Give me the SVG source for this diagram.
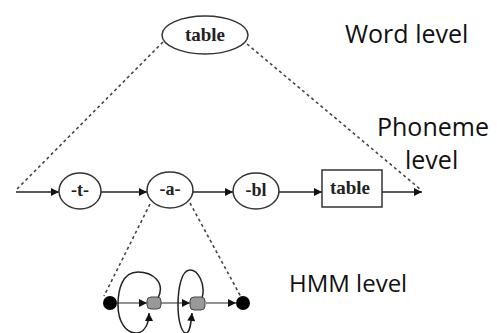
<svg xmlns="http://www.w3.org/2000/svg" width="497" height="333" viewBox="0 0 497 333">
<style>
.lbl{font-family:"Open Sans","Liberation Sans",sans-serif;font-size:25px;fill:#111}
.nt{font-family:"Liberation Serif",serif;font-weight:bold;fill:#222;text-anchor:middle}
.node{fill:#fff;stroke:#333;stroke-width:1.5}
.ln{stroke:#222;stroke-width:1.5;fill:none}
.dash{stroke:#444;stroke-width:1.6;fill:none;stroke-dasharray:3 3}
</style>
<defs>
<marker id="ah" viewBox="0 0 10 10" refX="10" refY="5" markerWidth="9" markerHeight="8" markerUnits="userSpaceOnUse" orient="auto">
<path d="M0,0 L10,5 L0,10 z" fill="#111"/>
</marker>
</defs>
<rect width="497" height="333" fill="#fff"/>
<g id="connectors">
<line class="dash" x1="163" y1="42" x2="16" y2="190"/>
<line class="dash" x1="247" y1="44" x2="420" y2="189"/>
<line class="dash" x1="150" y1="204" x2="104" y2="296"/>
<line class="dash" x1="190" y1="203" x2="241" y2="297"/>
<line class="ln" x1="16" y1="192" x2="59" y2="192" marker-end="url(#ah)"/>
<line class="ln" x1="101" y1="192" x2="147" y2="192" marker-end="url(#ah)"/>
<line class="ln" x1="193" y1="192" x2="233" y2="192" marker-end="url(#ah)"/>
<line class="ln" x1="279" y1="192" x2="322" y2="192" marker-end="url(#ah)"/>
<line class="ln" x1="382" y1="192" x2="422" y2="192" marker-end="url(#ah)"/>
<line stroke="#555" stroke-width="1.3" x1="117" y1="303" x2="147" y2="303" marker-end="url(#ah)"/>
<line stroke="#555" stroke-width="1.3" x1="160" y1="303" x2="190" y2="303" marker-end="url(#ah)"/>
<line stroke="#555" stroke-width="1.3" x1="206" y1="303" x2="236" y2="303" marker-end="url(#ah)"/>
<path class="ln" d="M158,298 C166,282 152,272 138,272 C122,272 118,290 118,305 C118,322 126,333 136,333 C145,333 149,323 149,313" marker-end="url(#ah)"/>
<path class="ln" d="M202,298 C206,284 198,270 190,270 C181,270 178,290 178,305 C178,322 182,333 186,333 C190,333 191,323 192,313" marker-end="url(#ah)"/>
</g>
<g id="word">
<ellipse class="node" cx="205" cy="35" rx="43" ry="19"/>
<text class="nt" x="205" y="41" font-size="19">table</text>
</g>
<g id="ph-t">
<ellipse class="node" cx="80" cy="191" rx="21" ry="18"/>
<text class="nt" x="80" y="196" font-size="18">-t-</text>
</g>
<g id="ph-a">
<ellipse class="node" cx="170" cy="190" rx="23" ry="18"/>
<text class="nt" x="170" y="195" font-size="18">-a-</text>
</g>
<g id="ph-bl">
<ellipse class="node" cx="256" cy="191" rx="23" ry="18"/>
<text class="nt" x="256" y="196" font-size="18">-bl</text>
</g>
<g id="ph-table">
<rect class="node" x="322" y="170" width="60" height="37"/>
<text class="nt" x="350" y="194" font-size="19">table</text>
</g>
<g id="hmm-start"><circle cx="110" cy="303" r="7" fill="#000"/></g>
<g id="hmm-s1"><rect x="147" y="297" width="14" height="12" rx="4" fill="#999" stroke="#444" stroke-width="1"/></g>
<g id="hmm-s2"><rect x="190" y="297" width="15" height="13" rx="4" fill="#999" stroke="#444" stroke-width="1"/></g>
<g id="hmm-end"><circle cx="243" cy="303" r="7" fill="#000"/></g>
<g id="labels">
<text class="lbl" x="345" y="43">Word level</text>
<text class="lbl" x="377" y="136">Phoneme</text>
<text class="lbl" x="405" y="169">level</text>
<text class="lbl" x="289" y="292" style="font-size:24px">HMM level</text>
</g>
</svg>
